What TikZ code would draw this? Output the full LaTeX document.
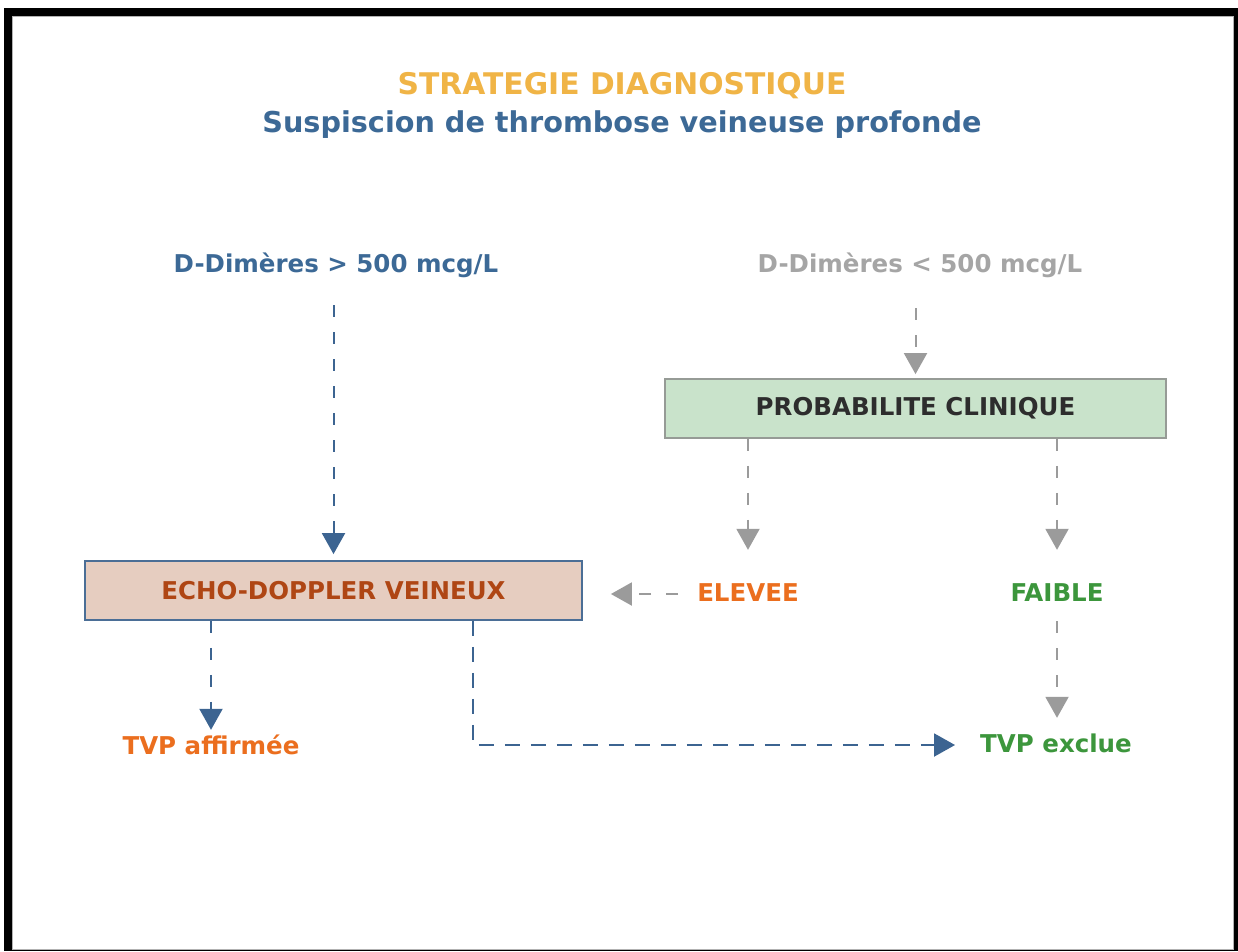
\documentclass[tikz,border=0pt]{standalone}
\usepackage{fontspec}
\setmainfont{DejaVu Sans}
\usetikzlibrary{arrows.meta}
\definecolor{titleorange}{RGB}{240,180,70}
\definecolor{titleblue}{RGB}{60,105,150}
\definecolor{greytext}{RGB}{165,165,165}
\definecolor{echofill}{RGB}{230,205,192}
\definecolor{echoborder}{RGB}{75,110,150}
\definecolor{echotext}{RGB}{175,70,20}
\definecolor{probafill}{RGB}{201,227,203}
\definecolor{probaborder}{RGB}{150,155,150}
\definecolor{probatext}{RGB}{45,45,45}
\definecolor{eleveeorange}{RGB}{235,110,30}
\definecolor{faiblegreen}{RGB}{60,150,60}
\definecolor{connblue}{RGB}{60,100,145}
\definecolor{conngrey}{RGB}{155,155,155}
\tikzset{
  lbl/.style={inner sep=0pt, font=\bfseries\fontsize{24.5}{28}\selectfont, text height=15pt, text depth=5pt},
  bigtitle/.style={inner sep=0pt, anchor=base, font=\bfseries\fontsize{29.8}{34}\selectfont},
  subtitlefont/.style={inner sep=0pt, anchor=base, font=\bfseries\fontsize{28.7}{34}\selectfont},
  stepbox/.style={draw, line width=1.8pt, minimum height=59pt, inner sep=0pt, font=\bfseries\fontsize{24.5}{28}\selectfont},
  conn/.style={line width=2pt, dash pattern=on 12pt off 15pt, -{Triangle[width=23pt,length=21pt]}},
  blueconn/.style={conn, draw=connblue},
  greyconn/.style={conn, draw=conngrey},
}
\begin{document}
\begin{tikzpicture}[x=1pt,y=-1pt]
\useasboundingbox (0,0) rectangle (1238,951);
% frame
\fill[black] (4,8) rectangle (1238,951);
\filldraw[fill=white, draw=gray!60, line width=1pt] (12,16) rectangle (1233,949);

% titles
\node[bigtitle, text=titleorange] (title) at (622,94) {STRATEGIE DIAGNOSTIQUE};
\node[subtitlefont, text=titleblue] (subtitle) at (622,132) {Suspiscion de thrombose veineuse profonde};

% labels
\node[lbl, text=titleblue] (dplus) at (336,267) {D-Dimères > 500 mcg/L};
\node[lbl, text=greytext] (dminus) at (920,267) {D-Dimères < 500 mcg/L};

% boxes
\node[stepbox, fill=echofill, draw=echoborder, text=echotext, minimum width=497pt] (echo) at (333.5,590.5) {ECHO-DOPPLER VEINEUX};
\node[stepbox, fill=probafill, draw=probaborder, text=probatext, minimum width=501pt] (proba) at (915.5,408.5) {PROBABILITE CLINIQUE};

\node[lbl, text=eleveeorange] (elevee) at (748,596) {ELEVEE};
\node[lbl, text=faiblegreen] (faible) at (1057,596) {FAIBLE};
\node[lbl, text=eleveeorange] (tvpa) at (211,749) {TVP affirmée};
\node[lbl, text=faiblegreen] (tvpe) at (1056,747) {TVP exclue};

% connectors
\draw[blueconn, shorten <=28pt, shorten >=6pt] (dplus.south -| echo.north) -- (echo.north);
\draw[greyconn, shorten <=31pt, shorten >=4pt] (dminus.south -| proba.north) -- (proba.north);
\draw[greyconn, shorten >=36pt] (proba.south -| elevee.north) -- (elevee.north);
\draw[greyconn, shorten >=36pt] (proba.south -| faible.north) -- (faible.north);
\draw[greyconn, shorten <=15pt, shorten >=19pt] (faible.south) -- (tvpe.north -| faible.south);
\draw[greyconn, shorten <=19pt, shorten >=28pt] ([yshift=2pt]elevee.west) -- ([yshift=2pt]elevee.west -| echo.east);
\draw[blueconn, shorten >=9pt] (echo.south -| tvpa.north) -- (tvpa.north);
\draw[blueconn, shorten >=25pt, dash pattern=on 15pt off 11pt] ([xshift=139.5pt]echo.south) |- ([yshift=2pt]tvpe.west);
\end{tikzpicture}
\end{document}
